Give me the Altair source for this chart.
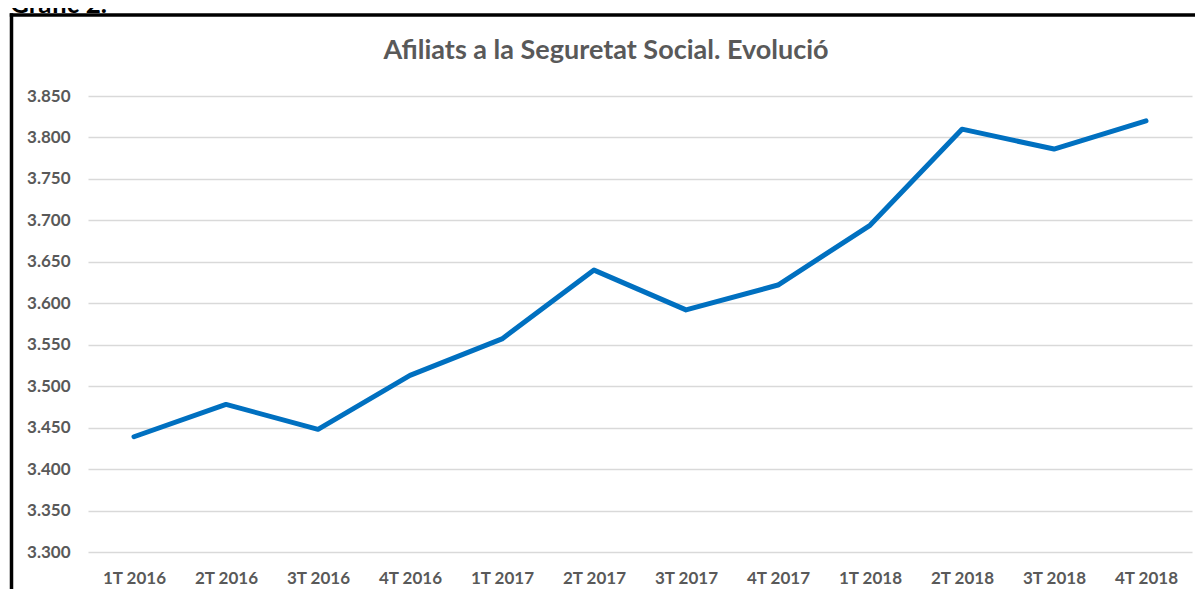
import altair as alt
import pandas as pd

# Data (thousands of affiliates)
quarters = ["1T 2016", "2T 2016", "3T 2016", "4T 2016",
            "1T 2017", "2T 2017", "3T 2017", "4T 2017",
            "1T 2018", "2T 2018", "3T 2018", "4T 2018"]
afiliats = [3439, 3478, 3448, 3513, 3557, 3640, 3592, 3622, 3694, 3810, 3786, 3820]
y_ticks = [3300, 3350, 3400, 3450, 3500, 3550, 3600, 3650, 3700, 3750, 3800, 3850]

title_text = "Afiliats a la Seguretat Social. Evolució"
caption_text = "Gràfic 2."

df = pd.DataFrame({"q": quarters, "v": afiliats})

FONT = "Lato"
GRAY = "#595959"
W, H = 1104, 456

x_enc = alt.X("q:N", sort=quarters,
              scale=alt.Scale(type="point", padding=0.5),
              axis=alt.Axis(title=None, labelAngle=0, labelFont=FONT, labelFontSize=17,
                            labelFontWeight="bold", labelColor=GRAY, labelPadding=18,
                            ticks=False, domain=False, grid=False))
y_enc = alt.Y("v:Q", scale=alt.Scale(domain=[3300, 3850], nice=False, zero=False),
              axis=alt.Axis(title=None, values=y_ticks,
                            labelExpr="replace(format(datum.value, ','), ',', '.')",
                            labelFont=FONT, labelFontSize=17, labelFontWeight="bold",
                            labelColor=GRAY, labelPadding=18, ticks=False, domain=False,
                            grid=True, gridColor="#D9D9D9", gridWidth=1.5))

line = alt.Chart(df).mark_line(color="#0070C0", strokeWidth=5, strokeCap="round",
                               strokeJoin="round").encode(x=x_enc, y=y_enc)

title = alt.Chart(pd.DataFrame({"t": [title_text]})).mark_text(
    font=FONT, fontSize=27, fontWeight="bold", color=GRAY, baseline="middle", align="center"
).encode(x=alt.value(518), y=alt.value(-45), text="t:N")

caption = alt.Chart(pd.DataFrame({"t": [caption_text]})).mark_text(
    font=FONT, fontSize=26, fontWeight="bold", color="black", baseline="alphabetic", align="left"
).encode(x=alt.value(-78), y=alt.value(-83.5), text="t:N")

frame_left = alt.Chart(pd.DataFrame({"a": [0]})).mark_rule(color="black", strokeWidth=3.5).encode(
    x=alt.value(-76.5), y=alt.value(-82.75), y2=alt.value(H + 40))
frame_top = alt.Chart(pd.DataFrame({"a": [0]})).mark_rule(color="black", strokeWidth=3.5).encode(
    y=alt.value(-81), x=alt.value(-78.25), x2=alt.value(W + 10))

chart = alt.layer(line, title, caption, frame_left, frame_top).properties(
    width=W, height=H,
    autosize=alt.AutoSizeParams(type="none"),
    padding={"left": 80, "top": 88, "right": 3, "bottom": 37},
    background="white",
).configure_view(stroke=None)

chart.save("out.html", embed_options={"renderer": "svg", "actions": False})
